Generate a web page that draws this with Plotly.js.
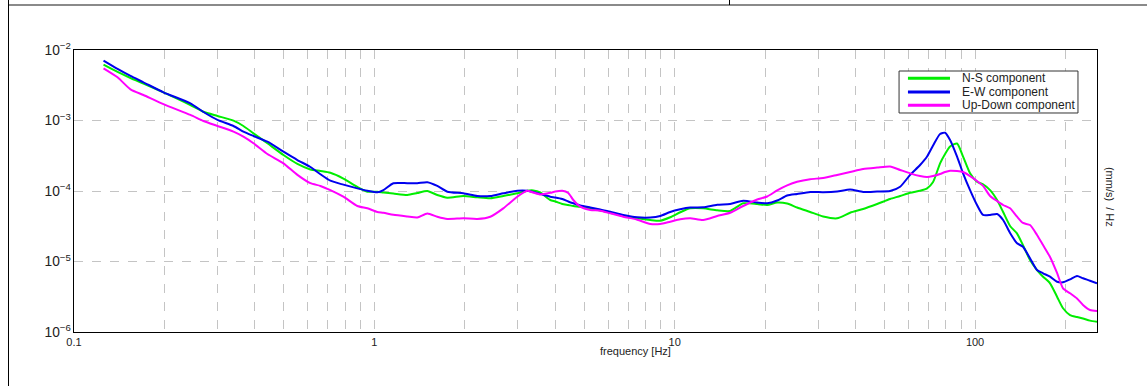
<!DOCTYPE html>
<html>
<head>
<meta charset="utf-8">
<script src="https://cdn.plot.ly/plotly-3.0.1.min.js"></script>
<style>
  html, body { margin: 0; padding: 0; background: #ffffff; }
  #wrap { position: relative; width: 1147px; height: 386px; overflow: hidden; }
  #chart { position: absolute; left: 0; top: 0; width: 1147px; height: 386px; }
  .chrome { position: absolute; pointer-events: none; z-index: 10; }
</style>
</head>
<body>
<div id="wrap">
  <div id="chart"></div>
  <div class="chrome" style="left:8px; top:0; width:1px; height:386px; background:#000;"></div>
  <div class="chrome" style="left:9px; top:4px; width:1138px; height:2px; background:#8a8a8a;"></div>
  <div class="chrome" style="left:729px; top:0; width:1px; height:5px; background:#000;"></div>
</div>
<script>
// Frequency axis [Hz]
const frequency = [0.1254,0.1396,0.1542,0.1703,0.1985,0.2441,0.2698,0.3004,0.3396,0.3664,
  0.3958,0.4405,0.4981,0.5544,0.6124,0.6613,0.7137,0.7886,0.8778,0.9478,
  1.023,1.072,1.157,1.288,1.390,1.501,1.620,1.750,1.978,2.202,
  2.432,2.687,2.991,3.230,3.382,3.568,3.853,4.003,4.223,4.422,
  4.596,4.849,5.234,5.650,6.101,6.740,7.504,8.288,8.948,9.661,
  10.43,11.26,12.44,13.85,15.30,16.90,18.82,20.32,21.94,23.68,
  25.56,28.25,31.20,34.74,38.37,42.40,47.20,52.13,56.30,60.77,
  65.61,69.23,72.48,76.48,79.47,82.57,87.12,91.22,96.24,101.5,
  106.3,112.2,118.4,124.0,130.8,138.0,144.4,152.4,160.8,168.4,
  177.7,187.5,196.3,207.1,218.5,228.8,241.4,254.7];

// N-S component
const nsComponent = [6.19e-3,4.88e-3,4.01e-3,3.35e-3,2.51e-3,1.66e-3,1.33e-3,1.16e-3,9.94e-4,8.36e-4,
  6.58e-4,4.75e-4,3.24e-4,2.42e-4,2.02e-4,1.92e-4,1.81e-4,1.50e-4,1.14e-4,9.77e-5,
  9.77e-5,9.52e-5,9.21e-5,8.77e-5,9.37e-5,1.00e-4,8.77e-5,8.04e-5,8.49e-5,8.14e-5,
  7.88e-5,8.49e-5,9.28e-5,1.01e-4,1.02e-4,9.52e-5,7.45e-5,7.10e-5,6.54e-5,6.33e-5,
  6.13e-5,5.97e-5,5.65e-5,5.29e-5,4.92e-5,4.42e-5,4.10e-5,3.88e-5,3.79e-5,4.24e-5,
  4.99e-5,5.68e-5,5.68e-5,5.32e-5,5.20e-5,6.69e-5,6.54e-5,6.33e-5,6.87e-5,6.65e-5,
  5.83e-5,5.04e-5,4.35e-5,4.10e-5,4.92e-5,5.56e-5,6.54e-5,7.70e-5,8.49e-5,9.46e-5,
  1.01e-4,1.09e-4,1.34e-4,2.47e-4,3.35e-4,4.28e-4,4.72e-4,3.07e-4,1.78e-4,1.35e-4,
  1.24e-4,1.03e-4,7.45e-5,5.04e-5,3.19e-5,2.49e-5,1.71e-5,1.05e-5,7.57e-6,6.09e-6,
  4.91e-6,3.17e-6,2.17e-6,1.74e-6,1.63e-6,1.55e-6,1.45e-6,1.40e-6];

// E-W component
const ewComponent = [7.05e-3,5.38e-3,4.28e-3,3.48e-3,2.51e-3,1.75e-3,1.32e-3,1.02e-3,8.36e-4,6.94e-4,
  6.03e-4,5.00e-4,3.61e-4,2.75e-4,2.19e-4,1.73e-4,1.40e-4,1.23e-4,1.09e-4,1.01e-4,
  9.58e-5,1.03e-4,1.29e-4,1.29e-4,1.29e-4,1.33e-4,1.18e-4,9.77e-5,9.28e-5,8.49e-5,
  8.49e-5,9.28e-5,1.01e-4,1.01e-4,9.68e-5,9.07e-5,8.30e-5,8.09e-5,7.70e-5,7.10e-5,
  6.69e-5,6.23e-5,5.83e-5,5.46e-5,5.09e-5,4.57e-5,4.24e-5,4.21e-5,4.42e-5,5.04e-5,
  5.50e-5,5.83e-5,5.87e-5,6.37e-5,6.54e-5,7.29e-5,6.87e-5,6.69e-5,7.33e-5,8.63e-5,
  9.07e-5,9.68e-5,9.62e-5,9.84e-5,1.05e-4,9.68e-5,9.84e-5,1.00e-4,1.15e-4,1.69e-4,
  2.34e-4,3.09e-4,4.42e-4,6.44e-4,6.71e-4,5.29e-4,3.07e-4,1.78e-4,1.03e-4,6.33e-5,
  4.57e-5,4.57e-5,4.72e-5,3.88e-5,2.54e-5,1.81e-5,1.62e-5,1.11e-5,7.57e-6,6.80e-6,
  6.09e-6,5.17e-6,5.07e-6,5.59e-6,6.23e-6,5.78e-6,5.34e-6,4.91e-6];

// Up-Down component
const udComponent = [5.50e-3,4.10e-3,2.77e-3,2.30e-3,1.71e-3,1.20e-3,9.84e-4,8.36e-4,6.94e-4,5.89e-4,
  4.75e-4,3.35e-4,2.47e-4,1.69e-4,1.29e-4,1.18e-4,1.03e-4,8.30e-5,6.13e-5,5.68e-5,
  5.04e-5,4.92e-5,4.60e-5,4.35e-5,4.21e-5,4.80e-5,4.32e-5,4.01e-5,4.10e-5,4.01e-5,
  4.32e-5,5.68e-5,8.30e-5,1.01e-4,9.52e-5,8.92e-5,9.43e-5,9.84e-5,1.01e-4,9.37e-5,
  7.45e-5,5.99e-5,5.38e-5,5.26e-5,4.83e-5,4.32e-5,3.92e-5,3.40e-5,3.40e-5,3.67e-5,
  3.97e-5,4.10e-5,3.88e-5,4.42e-5,4.92e-5,6.13e-5,7.57e-5,8.36e-5,1.02e-4,1.20e-4,
  1.35e-4,1.47e-4,1.53e-4,1.69e-4,1.86e-4,2.05e-4,2.15e-4,2.23e-4,1.99e-4,1.78e-4,
  1.63e-4,1.58e-4,1.63e-4,1.74e-4,1.86e-4,1.94e-4,1.92e-4,1.86e-4,1.63e-4,1.39e-4,
  1.18e-4,8.49e-5,7.21e-5,6.33e-5,5.68e-5,4.32e-5,3.52e-5,3.29e-5,2.38e-5,1.71e-5,
  1.16e-5,6.87e-6,4.17e-6,3.54e-6,2.99e-6,2.42e-6,2.05e-6,1.99e-6];

const seriesNames = ["N-S component", "E-W component", "Up-Down component"];
const seriesColors = ["#00ee00", "#0000ee", "#ff00ff"];
const xTitle = "frequency [Hz]";
const yTitle = "(mm/s)  / Hz";
// minor grid positions (1..9 within each decade)
const minorGridFreqs = [0.2,0.3,0.4,0.5,0.6,0.7,0.8,0.9,2,3,4,5,6,7,8,9,20,30,40,50,60,70,80,90,200];

const font = "Liberation Sans, Arial, sans-serif";
const txt = "#222222";
const seriesValues = [nsComponent, ewComponent, udComponent];
const traces = seriesValues.map((vals, i) => ({
  type: "scatter",
  mode: "lines",
  name: seriesNames[i],
  x: frequency,
  y: vals,
  line: { color: seriesColors[i], width: 2, shape: "spline", smoothing: 0.6 },
  hoverinfo: "x+y+name",
  showlegend: false
}));

// Compact legend box (drawn like the original, in paper coordinates)
const lg = { x0: 0.8065, x1: 0.9814, y0: 0.7766, y1: 0.9255, lineX0: 0.8152, lineX1: 0.8563, textX: 0.8661, rowY: [0.8996, 0.8511, 0.8039] };
const shapes = [
  { type: "rect", xref: "paper", yref: "paper", x0: lg.x0, x1: lg.x1, y0: lg.y0, y1: lg.y1,
    fillcolor: "#ffffff", line: { color: "#333333", width: 1 }, layer: "above" }
];
const annotations = [
  { text: xTitle, xref: "paper", yref: "paper", x: 0.549, y: -0.067,
    xanchor: "center", yanchor: "middle", showarrow: false,
    font: { family: font, size: 11, color: txt } },
  { text: yTitle, xref: "paper", yref: "paper", x: 1.0127, y: 0.479,
    xanchor: "center", yanchor: "middle", showarrow: false, textangle: 90,
    font: { family: font, size: 11, color: txt } }
];
seriesNames.forEach((name, i) => {
  shapes.push({ type: "line", xref: "paper", yref: "paper", x0: lg.lineX0, x1: lg.lineX1,
    y0: lg.rowY[i], y1: lg.rowY[i], line: { color: seriesColors[i], width: 3 }, layer: "above" });
  annotations.push({ text: name, xref: "paper", yref: "paper", x: lg.textX, y: lg.rowY[i],
    xanchor: "left", yanchor: "middle", showarrow: false,
    font: { family: font, size: 12, color: txt } });
});

const gridColor = "#c4c4c4";
const layout = {
  width: 1147,
  height: 386,
  margin: { l: 74, r: 50, t: 50, b: 54 },
  paper_bgcolor: "#ffffff",
  plot_bgcolor: "#ffffff",
  font: { family: font, size: 11, color: txt },
  showlegend: false,
  xaxis: {
    type: "log",
    range: [-1, 2.406],
    dtick: 1,
    showline: true, linecolor: "#000000", linewidth: 1, mirror: true,
    ticks: "",
    showgrid: true, gridcolor: gridColor, griddash: "dash", gridwidth: 1,
    minor: { tickmode: "array", tickvals: minorGridFreqs, showgrid: true, gridcolor: gridColor, griddash: "dash", gridwidth: 1, ticks: "" },
    tickfont: { family: font, size: 11, color: txt },
    zeroline: false
  },
  yaxis: {
    type: "log",
    range: [-6, -2],
    dtick: 1,
    exponentformat: "power",
    showline: true, linecolor: "#000000", linewidth: 1, mirror: true,
    ticks: "",
    showgrid: true, gridcolor: gridColor, griddash: "dash", gridwidth: 1,
    tickfont: { family: font, size: 11, color: txt },
    zeroline: false
  },
  shapes: shapes,
  annotations: annotations
};

Plotly.newPlot("chart", traces, layout, { displayModeBar: false, staticPlot: true });
</script>
</body>
</html>
